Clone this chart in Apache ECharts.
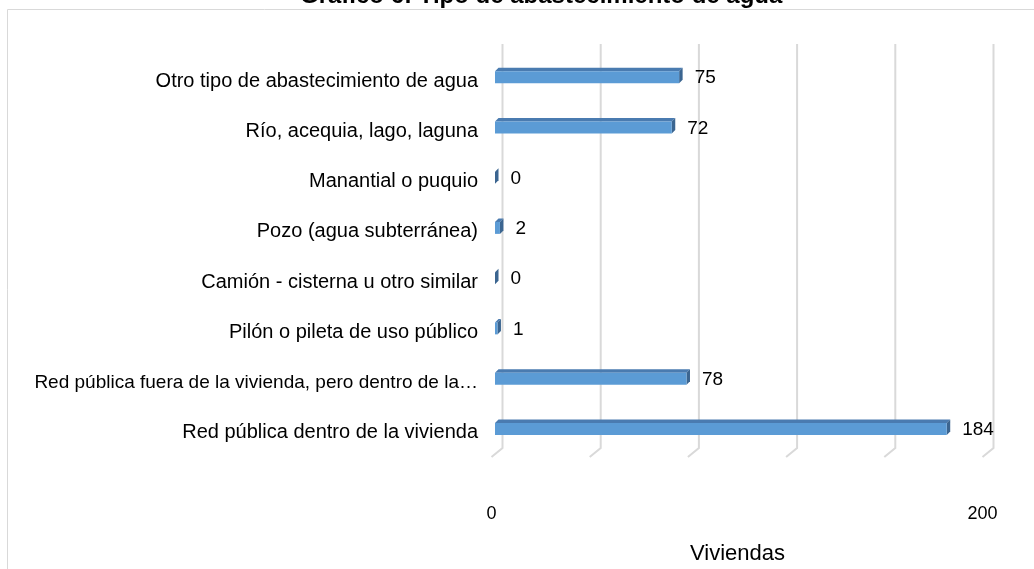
<!DOCTYPE html>
<html>
<head>
<meta charset="utf-8">
<script src="https://cdn.jsdelivr.net/npm/echarts@6/dist/echarts.min.js"></script>
<style>
  html, body { margin: 0; padding: 0; background: #fff; }
  #chart { width: 1034px; height: 569px; }
</style>
</head>
<body>
<div id="chart"></div>
<script>
// categorias de abajo hacia arriba
var categories = [
  'Red pública dentro de la vivienda',
  'Red pública fuera de la vivienda, pero dentro de la edificación',
  'Pilón o pileta de uso público',
  'Camión - cisterna u otro similar',
  'Pozo (agua subterránea)',
  'Manantial o puquio',
  'Río, acequia, lago, laguna',
  'Otro tipo de abastecimiento de agua'
]
var values = [184, 78, 1, 0, 2, 0, 72, 75]
var gridTicks = [0, 40, 80, 120, 160, 200]
var axisLabels = [0, 200]

var FONT = "'Liberation Sans', Arial, sans-serif"

// barra con efecto 3D (cara frontal, superior y lateral)
function renderBar(params, api) {
  var val = api.value(0)
  var cat = api.value(1)
  var start = api.coord([0, cat])
  var end = api.coord([val, cat])
  var h = 12, d = 3.5
  var x0 = start[0], x1 = end[0]
  var yTop = end[1] - h / 2
  return {
    type: 'group',
    children: [
      {
        type: 'polygon',
        shape: { points: [[x0, yTop], [x0 + d, yTop - d], [x1 + d, yTop - d], [x1, yTop]] },
        style: { fill: '#4a7bb0' }
      },
      {
        type: 'polygon',
        shape: { points: [[x1, yTop], [x1 + d, yTop - d], [x1 + d, yTop + h - d], [x1, yTop + h]] },
        style: { fill: '#3b6590' }
      },
      {
        type: 'rect',
        shape: { x: x0, y: yTop, width: x1 - x0, height: h },
        style: { fill: '#5b9bd5' }
      },
      {
        type: 'text',
        x: x1 + d + 12,
        y: end[1] + 1,
        style: {
          text: String(val),
          fill: '#000',
          font: '19px ' + FONT,
          verticalAlign: 'middle'
        }
      }
    ]
  }
}

// lineas de la pared del fondo y del piso
function renderGrid(params, api) {
  var cs = params.coordSys
  var x = api.coord([api.value(0), 0])[0] + 7.5
  var top = cs.y - 8
  var bottom = cs.y + cs.height - 6
  return {
    type: 'polyline',
    shape: { points: [[x, top], [x, bottom], [x - 11, bottom + 9]] },
    style: { stroke: '#d9d9d9', lineWidth: 2, fill: null }
  }
}

var chart = echarts.init(document.getElementById('chart'))

var option = {
  animation: false,
  title: {
    text: 'Gráfico 6: Tipo de abastecimiento de agua',
    left: 295,
    top: -21,
    textStyle: { fontFamily: FONT, fontSize: 24, fontWeight: 'bold', color: '#000' }
  },
  graphic: [
    {
      type: 'rect',
      shape: { x: 7.5, y: 9.5, width: 1200, height: 800 },
      style: { stroke: '#d9d9d9', fill: null, lineWidth: 1 },
      z: -10
    }
  ],
  grid: { left: 495, width: 491, top: 52, bottom: 115, containLabel: false, outerBoundsMode: 'none' },
  xAxis: {
    type: 'value',
    min: 0,
    max: 200,
    interval: 40,
    axisLine: { show: false },
    axisTick: { show: false },
    splitLine: { show: false },
    axisLabel: {
      margin: 51,
      padding: [0, 7, 0, 0],
      fontFamily: FONT,
      fontSize: 18,
      color: '#000',
      formatter: function (v) { return axisLabels.indexOf(v) >= 0 ? String(v) : '' }
    },
    name: 'Viviendas',
    nameLocation: 'middle',
    nameGap: 89,
    nameTextStyle: { fontFamily: FONT, fontSize: 22, color: '#000', padding: [0, 6, 0, 0] }
  },
  yAxis: {
    type: 'category',
    data: categories,
    axisLine: { show: false },
    axisTick: { show: false },
    axisLabel: {
      margin: 17,
      padding: [8, 0, 0, 0],
      fontFamily: FONT,
      fontSize: 20,
      color: '#000',
      width: 450,
      overflow: 'truncate',
      ellipsis: '…',
      formatter: function (v, i) { return i === 1 ? '{s|' + v + '}' : v },
      rich: { s: { fontFamily: FONT, fontSize: 19, color: '#000' } }
    }
  },
  series: [
    {
      type: 'custom',
      renderItem: renderGrid,
      data: gridTicks.map(function (t) { return [t, categories[0]] }),
      encode: { x: 0, y: 1 },
      z: 1,
      silent: true
    },
    {
      type: 'custom',
      renderItem: renderBar,
      data: values.map(function (v, i) { return [v, categories[i]] }),
      encode: { x: 0, y: 1 },
      z: 2
    }
  ]
}

chart.setOption(option)
</script>
</body>
</html>
